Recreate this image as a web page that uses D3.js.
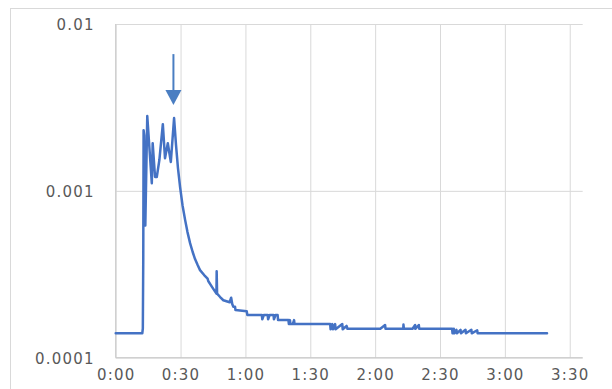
<!DOCTYPE html>
<html>
<head>
<meta charset="utf-8">
<script src="https://cdn.jsdelivr.net/npm/d3@7"></script>
<style>
  html, body { margin: 0; padding: 0; background: #fff; }
  svg { display: block; }
</style>
</head>
<body>
<svg id="chart" width="612" height="389"></svg>
<script>
// ---- data (time in minutes, value) ----
const timesMin = [
  0, 12.3, 12.55, 12.75, 12.9, 13.2, 13.7, 14.6, 16.7, 17.1, 18.2, 19.0, 20.2, 21.8, 22.8, 24.1, 25.5, 27.0,
  27.9, 28.8, 29.8, 30.9, 32.1, 33.2, 34.4, 35.6, 36.7, 37.9, 39.0, 40.9, 42.5, 42.8, 44.6, 46.6, 46.7, 46.9, 48.3, 49.8, 52.7, 53.4, 53.9,
  54.4, 55.2, 55.4, 60.6, 60.9, 67.6, 67.8, 68.5, 70.3, 70.5, 71.2, 73.0, 73.2, 73.9, 74.9, 75.1,
  79.9, 80.1, 80.6, 80.8, 81.9, 82.5, 82.7, 84.4, 99.2, 99.4, 100.2, 100.5, 101.5, 101.7, 104.8, 105.0,
  106.8, 107.2, 122.4, 124.6, 124.8, 133.0, 133.1, 133.3, 137.3, 138.5, 138.6, 140.2, 140.4, 155.6,
  155.8, 156.4, 156.6, 157.6, 157.8, 159.5, 159.7, 161.8, 162.0, 164.5, 164.7, 167.2, 167.4, 199.5
];
const values = [
  1.40e-4, 1.40e-4, 1.5e-4, 4.0e-4, 2.31e-3, 2.15e-3, 6.2e-4, 2.81e-3, 1.11e-3, 1.93e-3, 1.21e-3, 1.21e-3, 1.53e-3, 2.51e-3, 1.57e-3, 1.93e-3, 1.49e-3, 2.73e-3,
  1.88e-3, 1.37e-3, 1.05e-3, 8.2e-4, 6.7e-4, 5.66e-4, 4.86e-4, 4.3e-4, 3.9e-4, 3.59e-4, 3.35e-4, 3.13e-4, 2.98e-4, 2.88e-4, 2.65e-4, 2.42e-4, 3.3e-4, 2.42e-4, 2.31e-4, 2.21e-4, 2.15e-4, 2.29e-4, 2.1e-4,
  2.02e-4, 2.02e-4, 1.93e-4, 1.9e-4, 1.80e-4, 1.80e-4, 1.70e-4, 1.80e-4, 1.80e-4, 1.70e-4, 1.80e-4, 1.80e-4, 1.70e-4, 1.80e-4, 1.80e-4, 1.68e-4,
  1.68e-4, 1.59e-4, 1.68e-4, 1.59e-4, 1.59e-4, 1.68e-4, 1.59e-4, 1.59e-4, 1.59e-4, 1.48e-4, 1.59e-4, 1.48e-4, 1.59e-4, 1.48e-4, 1.59e-4, 1.48e-4,
  1.55e-4, 1.49e-4, 1.49e-4, 1.57e-4, 1.49e-4, 1.49e-4, 1.58e-4, 1.49e-4, 1.49e-4, 1.57e-4, 1.49e-4, 1.57e-4, 1.49e-4, 1.49e-4,
  1.40e-4, 1.49e-4, 1.40e-4, 1.47e-4, 1.40e-4, 1.47e-4, 1.40e-4, 1.47e-4, 1.40e-4, 1.47e-4, 1.40e-4, 1.46e-4, 1.40e-4, 1.40e-4
];
const xTicksMin = [0, 30, 60, 90, 120, 150, 180, 210];
const xTickLabels = ["0:00", "0:30", "1:00", "1:30", "2:00", "2:30", "3:00", "3:30"];
const yTicks = [0.0001, 0.001, 0.01];
const yTickLabels = ["0.0001", "0.001", "0.01"];
// annotation arrow (time in minutes, value at tail, value at tip)
const arrowTime = [26.7];
const arrowTail = [6.6e-3];
const arrowTip = [3.27e-3];

// ---- layout ----
const pL = 115.7, pR = 582.7, pT = 24, pB = 357.7;
const svg = d3.select("#chart");
const gridColor = "#d9d9d9";
const textColor = "#595959";
const lineColor = "#4472C4";
const fontFamily = "'DejaVu Sans', sans-serif";

svg.append("rect").attr("x", 10.5).attr("y", 8.5).attr("width", 700).attr("height", 500)
  .attr("fill", "#fff").attr("stroke", gridColor).attr("stroke-width", 1);

const x = d3.scaleLinear().domain([0, 216]).range([pL, pR]);
const y = d3.scaleLog().domain([1e-4, 1e-2]).range([pB, pT]);

// gridlines
const yGrid = svg.append("g").attr("transform", `translate(${pL},0)`)
  .call(d3.axisLeft(y).tickValues(yTicks).tickSize(-(pR - pL)).tickFormat(""));
yGrid.select(".domain").remove();
yGrid.selectAll("line").attr("stroke", gridColor).attr("stroke-width", 1);

const xGrid = svg.append("g").attr("transform", `translate(0,${pB})`)
  .call(d3.axisBottom(x).tickValues(xTicksMin).tickSize(-(pB - pT)).tickFormat(""));
xGrid.select(".domain").remove();
xGrid.selectAll("line").attr("stroke", gridColor).attr("stroke-width", 1);

// axis lines
svg.append("line").attr("x1", pL).attr("x2", pL).attr("y1", pT).attr("y2", pB)
  .attr("stroke", "#c8c8c8").attr("stroke-width", 1);
svg.append("line").attr("x1", pL).attr("x2", pR).attr("y1", pB).attr("y2", pB)
  .attr("stroke", "#c8c8c8").attr("stroke-width", 1);

// tick labels
const yAxis = svg.append("g").attr("transform", `translate(${pL - 21},0)`)
  .call(d3.axisLeft(y).tickValues(yTicks).tickSize(0).tickPadding(0)
    .tickFormat((d, i) => yTickLabels[i]));
yAxis.select(".domain").remove();
yAxis.selectAll("text").attr("fill", textColor).style("font-family", fontFamily)
  .style("font-size", "15px").style("letter-spacing", "1.2px").attr("dy", "0.36em");

const xAxis = svg.append("g").attr("transform", `translate(0,${pB + 12})`)
  .call(d3.axisBottom(x).tickValues(xTicksMin).tickSize(0).tickPadding(0)
    .tickFormat((d, i) => xTickLabels[i]));
xAxis.select(".domain").remove();
xAxis.selectAll("text").attr("fill", textColor).style("font-family", fontFamily)
  .style("font-size", "15px").style("letter-spacing", "1.2px").attr("dy", "0.71em");

// data line
const pts = timesMin.map((t, i) => [t, values[i]]);
svg.append("path").datum(pts)
  .attr("d", d3.line().x(d => x(d[0])).y(d => y(d[1])))
  .attr("fill", "none").attr("stroke", lineColor).attr("stroke-width", 2.5)
  .attr("stroke-linejoin", "round").attr("stroke-linecap", "round");

// arrow annotation
const ax = x(arrowTime[0]);
const ayTail = y(arrowTail[0]);
const ayTip = y(arrowTip[0]);
const headH = 15, headW = 8;
svg.append("line").attr("x1", ax).attr("x2", ax).attr("y1", ayTail).attr("y2", ayTip - headH + 1)
  .attr("stroke", "#4a7ec2").attr("stroke-width", 2);
svg.append("path")
  .attr("d", `M${ax - headW},${ayTip - headH} L${ax + headW},${ayTip - headH} L${ax},${ayTip} Z`)
  .attr("fill", "#4a7ec2");
</script>
</body>
</html>
